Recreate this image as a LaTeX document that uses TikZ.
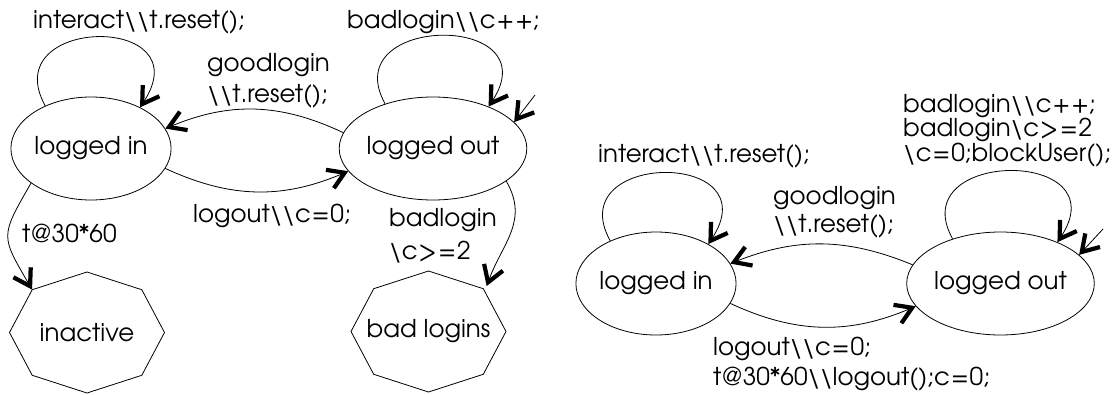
\documentclass[tikz,border=0pt]{standalone}
\usepackage{fontspec}
\setmainfont{TeX Gyre Adventor}
\usetikzlibrary{arrows.meta,shapes.geometric}
\newcommand{\bs}{\textbackslash}
\newcommand{\op}[1]{\kern1pt#1\kern1pt}
\begin{document}
\begin{tikzpicture}[x=1pt,y=1pt,
  every node/.style={font=\fontsize{24.5}{31}\selectfont},
  st/.style={ellipse,draw,line width=0.8pt,minimum width=150pt,minimum height=103pt,inner sep=0pt},
  oct/.style={ellipse,minimum width=155pt,minimum height=121pt,inner sep=0pt},
  lbl/.style={inner sep=0pt,align=left},
  e/.style={line width=0.8pt,-{Straight Barb[length=16pt,width=20pt,line width=4.2pt]}}]
\useasboundingbox (0,0) rectangle (1112,-394);

% ---------- left diagram ----------
\node[st] (li1) at (91,-148.5) {logged in};
\node[st] (lo1) at (433,-148.5) {logged out};
\node[oct] (inact) at (87,-332.5) {inactive};
\node[oct] (bl) at (428.5,-331.5) {bad logins};
\draw[line width=0.8pt] ([shift={(0:77.5pt and 60.5pt)}]inact.center)
  \foreach \a in {45,90,...,315}{ -- ([shift={(\a:77.5pt and 60.5pt)}]inact.center)} -- cycle;
\draw[line width=0.8pt] ([shift={(0:77.5pt and 60.5pt)}]bl.center)
  \foreach \a in {45,90,...,315}{ -- ([shift={(\a:77.5pt and 60.5pt)}]bl.center)} -- cycle;

\node[lbl,anchor=base west] (l1) at (33,-28) {interact\bs\bs t.reset();};
\node[lbl,anchor=base west] (l2) at (347,-28) {badlogin\bs\bs c\op{+}+;};
\node[lbl,anchor=north west] (l3) at (207,-53.5) {goodlogin\\\bs\bs t.reset();};
\node[lbl,anchor=base west] (l4) at (193,-222) {logout\bs\bs c\op{=}0;};
\node[lbl,anchor=base west] (l5) at (22,-242) {t@30*60};
\node[lbl,anchor=north west,font=\fontsize{24.5}{33}\selectfont] (l6) at (389,-208.5) {badlogin\\\bs c\op{>}\op{=}2};

\coordinate (i1) at (535,-95);
\draw[e] (li1.137) .. controls +(-50,90) and +(63,95) .. (li1.40);
\draw[e] (lo1.137) .. controls +(-50,90) and +(63,95) .. (lo1.37);
\draw[e] (i1) -- (lo1.18);
\draw[e] (lo1.170) to[bend right=24] (li1.15);
\draw[e] (li1.-15) to[bend right=24] (lo1.195);
\draw[e] (li1.210) to[out=240,in=120,looseness=1.5] (inact.142);
\draw[e] (lo1.336) to[out=-60,in=70,looseness=1.1] (bl.38);

% ---------- right diagram ----------
\node[st] (li2) at (656,-283.5) {logged in};
\node[st] (lo2) at (1000.5,-283.5) {logged out};

\node[lbl,anchor=base west] (r1) at (598,-162) {interact\bs\bs t.reset();};
\node[lbl,anchor=north west,font=\fontsize{24.5}{24.5}\selectfont] (r2) at (903,-94)
  {badlogin\bs\bs c\op{+}+;\\badlogin\bs c\op{>}\op{=}2\\\bs c\op{=}0;blockUser();};
\node[lbl,anchor=north west,font=\fontsize{24.5}{28}\selectfont] (r3) at (773,-186.5) {goodlogin\\\bs\bs t.reset();};
\node[lbl,anchor=north west,font=\fontsize{24.5}{30}\selectfont] (r4) at (713,-336.5) {logout\bs\bs c\op{=}0;\\t@30*60\bs\bs logout();c\op{=}0;};

\coordinate (i2) at (1103,-229);
\draw[e] (li2.137) .. controls +(-50,90) and +(63,95) .. (li2.37);
\draw[e] (lo2.137) .. controls +(-50,90) and +(63,95) .. (lo2.36);
\draw[e] (i2) -- (lo2.20);
\draw[e] (lo2.168) to[bend right=22] (li2.15);
\draw[e] (li2.-15) to[bend right=24] (lo2.195);
\end{tikzpicture}
\end{document}
